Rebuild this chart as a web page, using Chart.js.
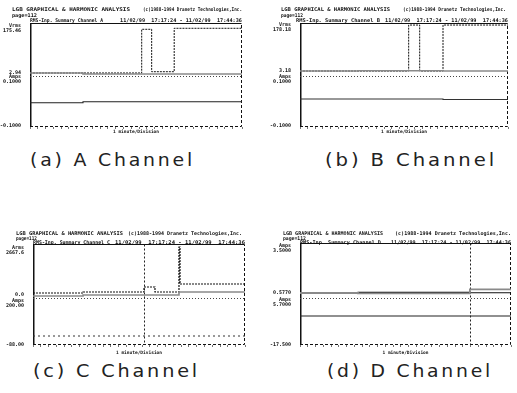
<!DOCTYPE html>
<html>
<head>
<meta charset="utf-8">
<script src="https://cdn.jsdelivr.net/npm/chart.js"></script>
<style>
body { margin: 0; width: 517px; height: 393px; background: #fff; position: relative; overflow: hidden; }
canvas { position: absolute; }
.hd { position: absolute; font: bold 5px "DejaVu Sans Mono", monospace; line-height: 5px; white-space: pre; color: #111; transform-origin: 0 50%; }
.cap { position: absolute; font: 17px "DejaVu Sans", sans-serif; line-height: 17px; letter-spacing: 2.5px; white-space: pre; color: #222; transform-origin: 0 50%; }
</style>
</head>
<body>
<canvas id="chA" width="258" height="140" style="left:0;top:0"></canvas>
<canvas id="chB" width="259" height="140" style="left:258px;top:0"></canvas>
<canvas id="chC" width="258" height="170" style="left:0;top:190px"></canvas>
<canvas id="chD" width="259" height="170" style="left:258px;top:190px"></canvas>
<script>
// time in minutes after 17:17:24 (end 17:44:36), each point = time of change and new level
var timeEnd = 27.2;

// channel A
var aMaxT = [0, 14.33, 15.61, 18.5, 27.2];
var aMaxV = [2.94, 170.5, 7.9, 174.3, 174.3];
var aAvgT = [0, 6.8, 27.2];
var aAvgV = [2.94, -0.9, -0.9];
var aAmpT = [0, 6.8, 27.2];
var aAmpV = [-0.0008, 0.0034, 0.0034];
var aTopTicks = [2.94, 175.46], aTopLabels = ["2.94", "175.46"];
var aBotTicks = [-0.1, 0.1], aBotLabels = ["-0.1000", "0.1000"];

// channel B
var bMaxT = [0, 14.21, 15.65, 18.7, 27.2];
var bMaxV = [3.18, 186, 3.18, 186, 186];
var bAvgT = [0, 7.58, 18.7, 27.2];
var bAvgV = [3.18, 4.4, 3.18, 3.18];
var bAmpT = [0, 18.7, 27.2];
var bAmpV = [0.015, 0.013, 0.013];
var bTopTicks = [3.18, 178.18], bTopLabels = ["3.18", "178.18"];
var bBotTicks = [-0.1, 0.1], bBotLabels = ["-0.1000", "0.1000"];

// channel C
var cMaxT = [0, 6.42, 14.24, 15.65, 18.73, 18.86, 27.2];
var cMaxV = [118.6, 177.8, 474, 177.8, 2845, 652, 652];
var cAvgT = [0, 6.42, 18.73, 27.2];
var cAvgV = [-59.3, 0, 177.8, 177.8];
var cAmpT = [0, 27.2];
var cAmpV = [-26.3, -26.3];
var cMarks = [14.24];
var cTopTicks = [0, 2667.6], cTopLabels = ["0.0", "2667.6"];
var cBotTicks = [-88, 200], cBotLabels = ["-88.00", "200.00"];

// channel D
var dAvgT = [0, 7.48, 21.9, 27.2];
var dAvgV = [0.577, 0.62, 0.597, 0.597];
var dMaxT = [0, 7.48, 21.9, 27.2];
var dMaxV = [0.577, 0.55, 0.82, 0.82];
var dAmpT = [0, 27.2];
var dAmpV = [-1.67, -1.67];
var dMarks = [21.9];
var dTopTicks = [0.577, 3.5], dTopLabels = ["0.5770", "3.5000"];
var dBotTicks = [-17.5, 5.7], dBotLabels = ["-17.500", "5.7000"];

var titleLeft = "LGB GRAPHICAL & HARMONIC ANALYSIS";
var titleRight = "(c)1988-1994 Dranetz Technologies,Inc.";
var pageText = "page=112";
var dateText = "11/02/99  17:17:24 - 11/02/99  17:44:36";
var captions = ["(a) A Channel", "(b) B Channel", "(c) C Channel", "(d) D Channel"];

var smallFont = { family: "DejaVu Sans Mono", size: 5, weight: "bold", lineHeight: 1 };

function pts(t, v) {
   return t.map(function (x, i) { return { x: x, y: v[i] }; });
}

function trace(t, v, axis, color, width, dash) {
   return {
      data: pts(t, v), yAxisID: axis, borderColor: color, borderWidth: width,
      borderDash: dash || [], stepped: true, pointRadius: 0, fill: false
   };
}

function yAxis(ticks, labels, unit, min, max, weight, w) {
   return {
      type: "linear", position: "left", stack: "rows", stackWeight: weight, min: min, max: max,
      afterBuildTicks: function (s) { s.ticks = ticks.map(function (v) { return { value: v }; }); },
      afterFit: function (s) { s.width = w; },
      ticks: {
         font: smallFont, color: "#111", padding: 1,
         callback: function (v, i) { return i === 1 ? [unit, labels[1]] : labels[0]; }
      },
      grid: { display: false },
      border: { display: false }
   };
}

var frame = {
   id: "frame",
   beforeDatasetsDraw: function (chart, args, opts) {
      var ctx = chart.ctx, a = chart.chartArea;
      var l = Math.round(a.left), r = Math.round(a.right) - 0.5, t = Math.round(a.top) + 0.5, b = Math.round(a.bottom) - 0.5;
      ctx.save();
      ctx.strokeStyle = "#111";
      ctx.lineWidth = 1.5;
      ctx.beginPath(); ctx.moveTo(l + 0.75, t); ctx.lineTo(l + 0.75, b); ctx.stroke();
      ctx.lineWidth = 1.2;
      ctx.beginPath(); ctx.moveTo(l, t); ctx.lineTo(r, t); ctx.stroke();
      ctx.lineWidth = 1;
      ctx.setLineDash([3, 2]);
      ctx.beginPath(); ctx.moveTo(l, b); ctx.lineTo(r, b); ctx.lineTo(r, t); ctx.stroke();
      var ys = Math.round(chart.scales.v.bottom) + 0.5;
      ctx.setLineDash([1, 2]);
      ctx.strokeStyle = "#444";
      ctx.beginPath(); ctx.moveTo(l, ys); ctx.lineTo(r, ys); ctx.stroke();
      ctx.setLineDash([2, 2]);
      ctx.strokeStyle = "#222";
      (opts.marks || []).forEach(function (m) {
         var x = Math.round(chart.scales.x.getPixelForValue(m)) + 0.5;
         ctx.beginPath(); ctx.moveTo(x, t); ctx.lineTo(x, b); ctx.stroke();
      });
      ctx.restore();
   }
};

function panel(id, p) {
   new Chart(id, {
      type: "line",
      data: { datasets: p.sets },
      plugins: [frame],
      options: {
         responsive: false, animation: false, events: [],
         layout: { padding: p.pad },
         plugins: { legend: { display: false }, tooltip: { enabled: false }, frame: { marks: p.marks || [] } },
         scales: {
            x: {
               type: "linear", min: 0, max: timeEnd,
               ticks: { display: false, stepSize: 1 },
               grid: { drawOnChartArea: false, tickLength: 2, color: "#777" },
               border: { display: false },
               title: { display: true, text: "1 minute/Division", font: { family: "DejaVu Sans Mono", size: 4.5, weight: "bold", lineHeight: 1 }, color: "#111", padding: 0 },
               afterFit: function (s) { s.height = p.xh; }
            },
            a: yAxis(p.bot[0], p.bot[1], "Amps", p.bot[2], p.bot[3], p.bot[4], p.yw),
            v: yAxis(p.top[0], p.top[1], p.unit, p.top[2], p.top[3], p.top[4], p.yw)
         }
      }
   });
}

panel("chA", {
   pad: { left: 0, top: 23, right: 16, bottom: 6 }, xh: 7, yw: 30, unit: "Vrms",
   top: [aTopTicks, aTopLabels, -8.56, 194.6, 53],
   bot: [aBotTicks, aBotLabels, -0.1043, 0.1128, 51],
   sets: [
      trace(aAvgT, aAvgV, "v", "#8a8a8a", 1.6),
      trace(aMaxT, aMaxV, "v", "#111", 1, [2, 1]),
      trace(aAmpT, aAmpV, "a", "#222", 1.1)
   ]
});

panel("chB", {
   pad: { left: 0, top: 23, right: 9, bottom: 6 }, xh: 7, yw: 42, unit: "Vrms",
   top: [bTopTicks, bTopLabels, -16.7, 194.1, 53],
   bot: [bBotTicks, bBotLabels, -0.1043, 0.1128, 51],
   sets: [
      trace(bAvgT, bAvgV, "v", "#8a8a8a", 1.6),
      trace(bMaxT, bMaxV, "v", "#111", 1, [2, 1]),
      trace(bAmpT, bAmpV, "a", "#333", 1.1)
   ]
});

panel("chC", {
   pad: { left: 0, top: 54, right: 13, bottom: 5 }, xh: 10, yw: 33, unit: "Arms", marks: cMarks,
   top: [cTopTicks, cTopLabels, -177.8, 3023, 54],
   bot: [cBotTicks, cBotLabels, -88, 234.3, 47],
   sets: [
      trace(cAvgT, cAvgV, "v", "#8a8a8a", 1.6),
      trace(cMaxT, cMaxV, "v", "#111", 1.2, [2, 1]),
      trace(cAmpT, cAmpV, "a", "#333", 1, [2, 3])
   ]
});

panel("chD", {
   pad: { left: 0, top: 53, right: 6, bottom: 5 }, xh: 10, yw: 42, unit: "Amps", marks: dMarks,
   top: [dTopTicks, dTopLabels, 0.2486, 3.861, 55],
   bot: [dBotTicks, dBotLabels, -17.5, 8.157, 47],
   sets: [
      trace(dMaxT, dMaxV, "v", "#8a8a8a", 1.8),
      trace(dAvgT, dAvgV, "v", "#111", 1.1),
      trace(dAmpT, dAmpV, "a", "#222", 1.1)
   ]
});

// header lines of each panel, fitted to the printed widths
function place(cls, text, x, y, w, half) {
   var s = document.createElement("div");
   s.className = cls;
   s.textContent = text;
   s.style.left = x + "px";
   s.style.top = (y - half) + "px";
   document.body.appendChild(s);
   s.style.transform = "scaleX(" + (w / s.getBoundingClientRect().width) + ")";
}

[
   [12, 9, 118, 143, 99, 25, 30, 73, 120, 122, "A", 15, 20],
   [281, 9, 109, 403, 103, 22, 296, 84, 385, 123, "B", 15, 20],
   [16, 233, 107, 128, 114, 21, 33, 77, 115, 130, "C", 238, 242],
   [283, 233, 100, 395, 116, 23, 300, 81, 391, 120, "D", 238, 242]
].forEach(function (h) {
   place("hd", titleLeft, h[0], h[1], h[2], 2.5);
   place("hd", titleRight, h[3], h[1], h[4], 2.5);
   place("hd", pageText, h[0], h[11], h[5], 2.5);
   place("hd", "RMS-Inp. Summary Channel " + h[10], h[6], h[12], h[7], 2.5);
   place("hd", dateText, h[8], h[12], h[9], 2.5);
});

place("cap", captions[0], 30, 160, 165, 8.5);
place("cap", captions[1], 325, 160, 172, 8.5);
place("cap", captions[2], 33, 371, 167, 8.5);
place("cap", captions[3], 327, 371, 166, 8.5);
</script>
</body>
</html>
